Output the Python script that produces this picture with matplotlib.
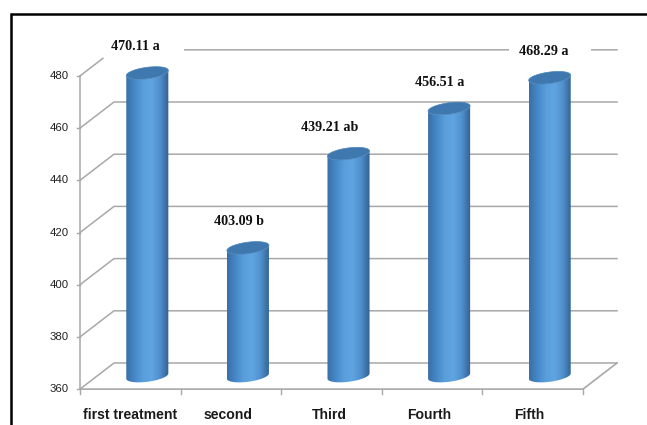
import numpy as np
import matplotlib
matplotlib.use('Agg')
import matplotlib.pyplot as plt
from matplotlib.colors import LinearSegmentedColormap
from matplotlib.patches import Polygon, Rectangle

categories = ['first treatment', 'second', 'Third', 'Fourth', 'Fifth']
values = [470.11, 403.09, 439.21, 456.51, 468.29]
letters = ['a', 'b', 'ab', 'a', 'a']
y_ticks = [360, 380, 400, 420, 440, 460, 480]

# floor depth, in category and value units
DX = 0.338
DY = 10.0
GRID = '#a8a8a8'
LIFT = 1.0

fig = plt.figure(figsize=(6.47, 4.25), dpi=100)
ax = fig.add_axes([0, 0, 1, 1])
xlim = (-80 / 100.6, 567 / 100.6)
ylim = (360 - 62 / 2.61, 360 + 363 / 2.61)
ax.set_axis_off()


def draw_cylinder(center, top, base):
    half = 0.209
    b = 2.2
    tilt = 1.0
    t = np.linspace(np.pi, 2 * np.pi, 60)
    arc_x = center + half * np.cos(t)
    arc_y = b * np.sin(t) + tilt * np.cos(t)
    # body outline: up the left side, across the top, back along the bottom arc
    body_x = np.concatenate([arc_x, arc_x[::-1]])
    body_y = np.concatenate([base + arc_y, top + arc_y[::-1]])
    body = Polygon(np.c_[body_x, body_y], closed=True, fc='none', ec='none', zorder=3)
    ax.add_patch(body)
    grad = np.linspace(0, 1, 128).reshape(1, -1)
    im = ax.imshow(grad, cmap=body_cmap, aspect='auto', zorder=3, vmin=0, vmax=1,
                   extent=(center - half, center + half, base - 5, top + 5))
    im.set_clip_path(body)
    # top cap
    t = np.linspace(0, 2 * np.pi, 120)
    cap = Polygon(np.c_[center + half * np.cos(t), top + b * np.sin(t) + tilt * np.cos(t)],
                  closed=True, fc='#3f78ae', ec='#4a84bb', lw=0.5, zorder=4)
    ax.add_patch(cap)


body_cmap = LinearSegmentedColormap.from_list(
    'cyl', ['#3a6fa6', '#4688c8', '#5a9fdc', '#5fa5e2', '#4f8ecb', '#315f8e'])

# back wall gridlines, side diagonals and the front axis
for v in y_ticks:
    ax.plot([0, DX, 5 + DX], [v - DY, v, v], color=GRID, lw=1.1, zorder=1, solid_joinstyle='miter')
    ax.plot([-0.03, 0], [v - DY, v - DY], color=GRID, lw=1.0, zorder=1)
    ax.text(-0.11, v - DY, str(v), ha='right', va='center', fontsize=8.2,
            family='Liberation Sans', color='#222222')
ax.plot([0, 0], [y_ticks[0] - DY, y_ticks[-1] - DY], color=GRID, lw=1.1, zorder=1)
ax.plot([0, 5, 5 + DX], [y_ticks[0] - DY, y_ticks[0] - DY, y_ticks[0]], color=GRID, lw=1.2, zorder=1)
for i in range(6):
    ax.plot([i, i], [y_ticks[0] - DY, y_ticks[0] - DY - 2], color=GRID, lw=1.0, zorder=1)

# blank strips behind the first and last value labels
for left, right in [(0.229, 1.034), (4.264, 5.08)]:
    ax.add_patch(Rectangle((left, 476.9), right - left, 9, fc='white', ec='none', zorder=2))

for i, v in enumerate(values):
    draw_cylinder(i + 0.5 + DX / 2, v + LIFT, y_ticks[0] - DY / 2)

# per-bar shift of the value labels, in category units
label_dx = [-0.12, -0.09, -0.19, -0.09, -0.055]
for i, v in enumerate(values):
    ax.text(i + 0.5 + DX / 2 + label_dx[i], v + 11, '%.2f %s' % (v, letters[i]), ha='center', va='center',
            fontsize=10.2, fontweight='bold', family='Liberation Serif', color='#111111', zorder=5)

x_label_pos = [0.502, 1.476, 2.475, 3.474, 4.468]
for pos, name in zip(x_label_pos, categories):
    ax.text(pos, y_ticks[0] - DY - 9.8, name, ha='center', va='center', fontsize=10.1,
            fontweight='bold', family='Liberation Sans', color='#1a1a1a')

ax.set_xlim(xlim)
ax.set_ylim(ylim)

# black frame: left edge and top edge only
fig.add_artist(plt.Line2D([11 / 647, 11 / 647, 1], [0, 1 - 14 / 425, 1 - 14 / 425],
                          color='black', lw=1.8, solid_joinstyle='miter'))

fig.savefig('out.png', dpi=100)
